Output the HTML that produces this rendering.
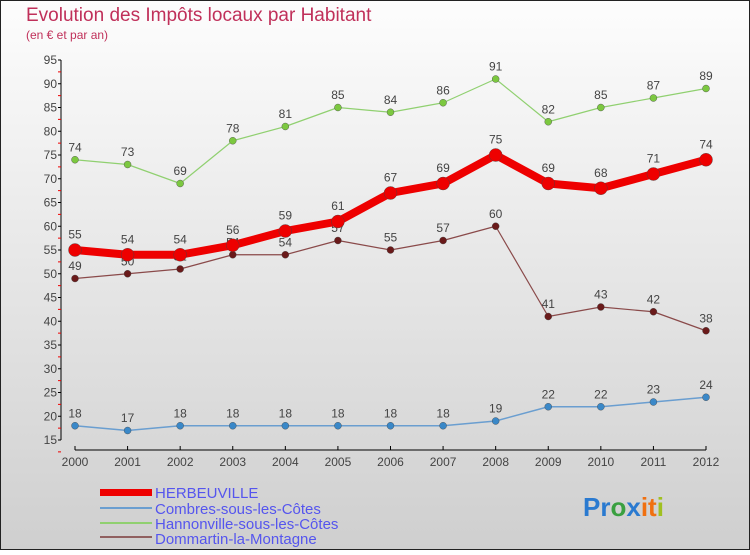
<!DOCTYPE html>
<html><head><meta charset="utf-8"><style>
body{margin:0;width:750px;height:550px;overflow:hidden;font-family:"Liberation Sans",sans-serif}
</style></head><body>
<svg width="750" height="550" xmlns="http://www.w3.org/2000/svg">
<defs><linearGradient id="bg" x1="0" y1="0" x2="0" y2="1"><stop offset="0" stop-color="#fdfdfd"/><stop offset="1" stop-color="#cfcfcf"/></linearGradient></defs>
<rect x="0.5" y="0.5" width="749" height="549" fill="url(#bg)" stroke="#222"/>
<text x="26" y="21" font-size="19" fill="#c0305a">Evolution des Impôts locaux par Habitant</text>
<text x="26" y="39" font-size="12" fill="#c0305a">(en € et par an)</text>
<g id="axes"></g><g id="plot"></g>
<g font-size="15" fill="#5555ee">
<rect x="100" y="489" width="52" height="7" fill="#e00"/>
<text x="155" y="498">HERBEUVILLE</text>
<rect x="100" y="507" width="52" height="2" fill="#6a9ed0"/>
<text x="155" y="514">Combres-sous-les-Côtes</text>
<rect x="100" y="522" width="52" height="2" fill="#90d070"/>
<text x="155" y="529">Hannonville-sous-les-Côtes</text>
<rect x="100" y="536" width="52" height="2" fill="#906060"/>
<text x="155" y="544">Dommartin-la-Montagne</text>
</g>
<text x="583" y="516" font-size="26" font-weight="bold"><tspan fill="#2a7ad0">Pr</tspan><tspan fill="#3aa040">o</tspan><tspan fill="#2a7ad0">x</tspan><tspan fill="#f07010">it</tspan><tspan fill="#a0c020">i</tspan></text>
</svg>
<script>
const years=[2000,2001,2002,2003,2004,2005,2006,2007,2008,2009,2010,2011,2012];
const herbeuville=[55,54,54,56,59,61,67,69,75,69,68,71,74];
const combres=[18,17,18,18,18,18,18,18,19,22,22,23,24];
const hannonville=[74,73,69,78,81,85,84,86,91,82,85,87,89];
const dommartin=[49,50,51,54,54,57,55,57,60,41,43,42,38];
const yTicks=[15,20,25,30,35,40,45,50,55,60,65,70,75,80,85,90,95];
const NS="http://www.w3.org/2000/svg";
const X=i=>75+i*(706-75)/(years.length-1);
const Y=v=>60+(95-v)*(380/80);
function mk(t,a,p){const e=document.createElementNS(NS,t);for(const k in a)e.setAttribute(k,a[k]);p.appendChild(e);return e;}
const ax=document.getElementById('axes'),pl=document.getElementById('plot');
let e=mk('line',{x1:61,y1:Y(95),x2:61,y2:Y(15),stroke:'#000'},ax);

e=mk('line',{x1:75,y1:450,x2:706,y2:450,stroke:'#000'},ax);

yTicks.forEach(v=>{mk('line',{x1:58,y1:Y(v),x2:61,y2:Y(v),stroke:'#000'},ax);
 mk('line',{x1:58,y1:Y(v-2.5),x2:61,y2:Y(v-2.5),stroke:'#e00'},ax);
 const t=mk('text',{x:57,y:Y(v)+4,'text-anchor':'end','font-size':12,fill:'#444'},ax);t.textContent=v;
 });
years.forEach((yr,i)=>{mk('line',{x1:X(i),y1:446,x2:X(i),y2:450,stroke:'#000'},ax);
 const t=mk('text',{x:X(i),y:466,'text-anchor':'middle','font-size':12,fill:'#444'},ax);t.textContent=yr;
 });
function series(d,name,col,w,r,dot){
 const g=mk('g',{},pl);
 const p=mk('polyline',{points:d.map((v,i)=>X(i)+','+Y(v)).join(' '),fill:'none',stroke:col,'stroke-width':w,'stroke-linejoin':'round'},g);
 
 d.forEach((v,i)=>{const c=mk('circle',{cx:X(i),cy:Y(v),r:r,fill:dot,stroke:'#444','stroke-width':0.4},g);
  
  const t=mk('text',{x:X(i),y:Y(v)-(r+5),'text-anchor':'middle','font-size':12,fill:'#444'},g);t.textContent=v;
  });
}
series(hannonville,'hannonville','#90d070',1.2,3.5,'#7cc840');
series(dommartin,'dommartin','#8a4a4a',1.2,3.5,'#6a1a1a');
series(combres,'combres','#6a9ed0',1.5,3.5,'#3a88c8');
series(herbeuville,'herbeuville','#e00',8,6.5,'#e00');
</script>
</body></html>
